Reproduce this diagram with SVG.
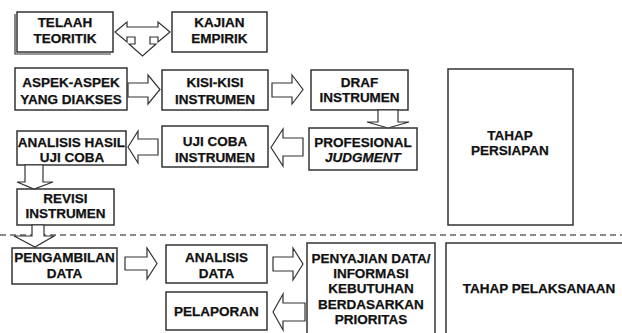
<svg xmlns="http://www.w3.org/2000/svg" width="622" height="333" viewBox="0 0 622 333">
<style>
.box{fill:#fff;stroke:#333;stroke-width:1.5}
.arr{fill:#fff;stroke:#333;stroke-width:1.2;stroke-linejoin:miter}
text{font-family:"Liberation Sans",Arial,sans-serif;font-weight:bold;font-size:13.5px;fill:#111;stroke:#111;stroke-width:0.25;text-anchor:middle}
.it{font-style:italic}
.dash{stroke:#666;stroke-width:1.5;stroke-dasharray:6 4;fill:none}
</style>
<rect width="622" height="333" fill="#fff"/>
<line class="dash" x1="0" y1="235" x2="622" y2="235"/>
<g id="telaah">
<polyline points="15,14 15,54 111,54" fill="none" stroke="#333" stroke-width="1.2"/>
<rect class="box" x="17" y="12" width="96" height="40"/>
<text x="65" y="27">TELAAH</text><text x="65" y="43">TEORITIK</text>
</g>
<g id="kajian">
<rect class="box" x="172" y="12" width="95" height="40"/>
<text x="219.5" y="27">KAJIAN</text><text x="219.5" y="43">EMPIRIK</text>
</g>
<g id="aspek">
<rect class="box" x="15" y="68" width="112" height="42"/>
<text x="71" y="86.5">ASPEK-ASPEK</text><text x="71" y="103.5">YANG DIAKSES</text>
</g>
<g id="kisi">
<rect class="box" x="162" y="70" width="106" height="40"/>
<text x="215" y="86.5">KISI-KISI</text><text x="215" y="103.5">INSTRUMEN</text>
</g>
<g id="draf">
<rect class="box" x="311" y="70" width="97" height="40"/>
<text x="359.5" y="86.5">DRAF</text><text x="359.5" y="101.5">INSTRUMEN</text>
</g>
<g id="persiapan">
<rect class="box" x="448" y="69" width="125" height="156"/>
<text x="510" y="139.5">TAHAP</text><text x="510" y="154.5">PERSIAPAN</text>
</g>
<g id="profesional">
<rect class="box" x="309" y="128" width="108" height="42"/>
<text x="363" y="146.5">PROFESIONAL</text><text x="363" y="161.5" class="it">JUDGMENT</text>
</g>
<g id="ujicoba">
<rect class="box" x="162" y="126" width="106" height="41"/>
<text x="215" y="145.5">UJI COBA</text><text x="215" y="161.5">INSTRUMEN</text>
</g>
<g id="analisishasil">
<rect class="box" x="17" y="131" width="109" height="34"/>
<text x="71.5" y="146.5">ANALISIS HASIL</text><text x="72" y="161.5">UJI COBA</text>
</g>
<g id="revisi">
<rect class="box" x="17" y="189" width="97" height="36"/>
<text x="65.5" y="202.5">REVISI</text><text x="65.5" y="217.5">INSTRUMEN</text>
</g>
<g id="pengambilan">
<rect class="box" x="12" y="248" width="105" height="36"/>
<text x="64.5" y="261.5">PENGAMBILAN</text><text x="64.5" y="277.5">DATA</text>
</g>
<g id="analisisdata">
<rect class="box" x="166" y="245" width="101" height="38"/>
<text x="216.5" y="261.5">ANALISIS</text><text x="216.5" y="277.5">DATA</text>
</g>
<g id="pelaporan">
<rect class="box" x="166" y="292" width="101" height="38"/>
<text x="216.5" y="315.5">PELAPORAN</text>
</g>
<g id="penyajian">
<rect class="box" x="307" y="243" width="128" height="95"/>
<text x="371" y="262.5">PENYAJIAN DATA/</text>
<text x="371" y="277.5">INFORMASI</text>
<text x="371" y="292.5">KEBUTUHAN</text>
<text x="371" y="308.5">BERDASARKAN</text>
<text x="371" y="323.5">PRIORITAS</text>
</g>
<g id="pelaksanaan">
<rect class="box" x="446" y="243" width="180" height="95"/>
<text x="539" y="292.5">TAHAP PELAKSANAAN</text>
</g>
<g id="connectors">
<polygon class="arr" points="115,32 127,22 127,27 158,27 158,22 170,32 158,42 158,37 150,37 150,44 156,44 142.5,56 129,44 135,44 135,37 127,37 127,42"/>
<polygon class="arr" points="128,83 148,83 148,75 160,89.5 148,104 148,97 128,97"/>
<polygon class="arr" points="272,83 292,83 292,75 303,89.5 292,104 292,97 272,97"/>
<polygon class="arr" points="378,110 398,110 398,122 409,122 388,128 367,122 378,122"/>
<polygon class="arr" points="303,138 283,138 283,129 271,147.5 283,166 283,156 303,156"/>
<polygon class="arr" points="158,139 138,139 138,131 128,147 138,163 138,155 158,155"/>
<polygon class="arr" points="25,165 43,165 43,182 53,182 34,189 17,182 25,182"/>
<polygon class="arr" points="32,225 44,225 44,236 54,236 35,247 14,236 32,236"/>
<polygon class="arr" points="125,257 147,257 147,248 157,263.5 147,279 147,270 125,270"/>
<polygon class="arr" points="273,257 293,257 293,248 303,264 293,280 293,271 273,271"/>
<polygon class="arr" points="305,303 283,303 283,294 273,312 283,330 283,321 305,321"/>
</g>
</svg>
